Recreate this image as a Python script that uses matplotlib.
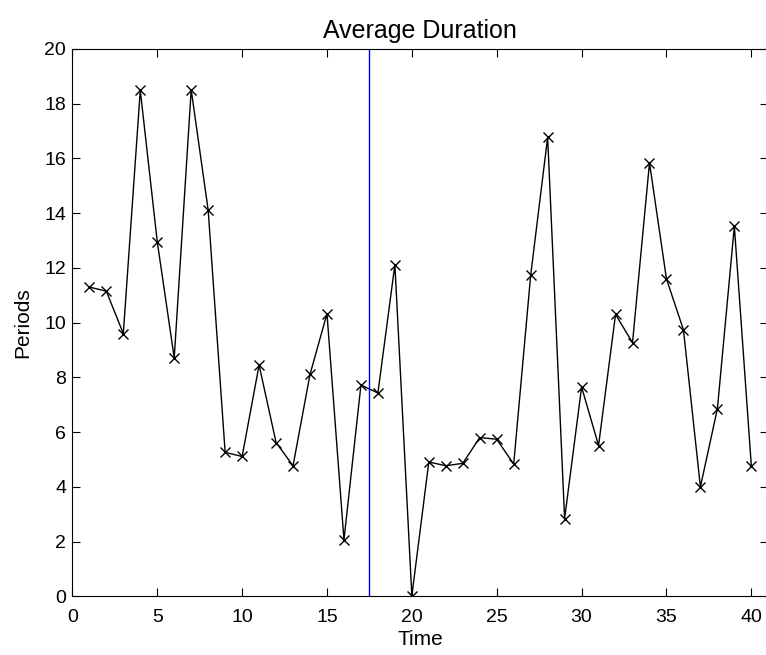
import matplotlib
matplotlib.use('Agg')
from matplotlib import pyplot as plt

matplotlib.rc('font', family=['Liberation Sans', 'DejaVu Sans'], size=14)

time = list(range(1, 41))
periods = [11.30, 11.15, 9.60, 18.49, 12.96, 8.71, 18.51, 14.11, 5.26, 5.11,
           8.45, 5.62, 4.77, 8.11, 10.33, 2.06, 7.72, 7.43, 12.12, 0.02,
           4.91, 4.77, 4.86, 5.80, 5.74, 4.83, 11.73, 16.77, 2.84, 7.65,
           5.51, 10.30, 9.27, 15.84, 11.60, 9.74, 4.00, 6.85, 13.52, 4.77]
split_at = 17.5

fig = plt.figure(figsize=(7.66, 6.55), dpi=100)
# right edge sits just past the figure edge, like the original
ax = fig.add_axes([0.0945, 0.0896, 0.9085, 0.8356])

ax.plot(time, periods, color='k', marker='x', lw=1, markersize=7, mew=1)
ax.axvline(split_at, color='b', lw=1)

ax.set_xlim(0, 41)
ax.set_ylim(0, 20)
ax.set_xticks(range(0, 41, 5))
ax.set_yticks(range(0, 21, 2))
ax.tick_params(direction='in', top=True, right=True, length=6, width=0.8)
ax.tick_params(axis='x', pad=9)
ax.tick_params(axis='y', pad=4.5)
for s in ax.spines.values():
    s.set_linewidth(0.8)
ax.spines['right'].set_visible(False)

ax.set_title('Average Duration', fontsize=18, pad=8)
ax.set_xlabel('Time', fontsize=15, labelpad=3)
ax.set_ylabel('Periods', fontsize=15, labelpad=9)

fig.savefig('out.png', dpi=100)
